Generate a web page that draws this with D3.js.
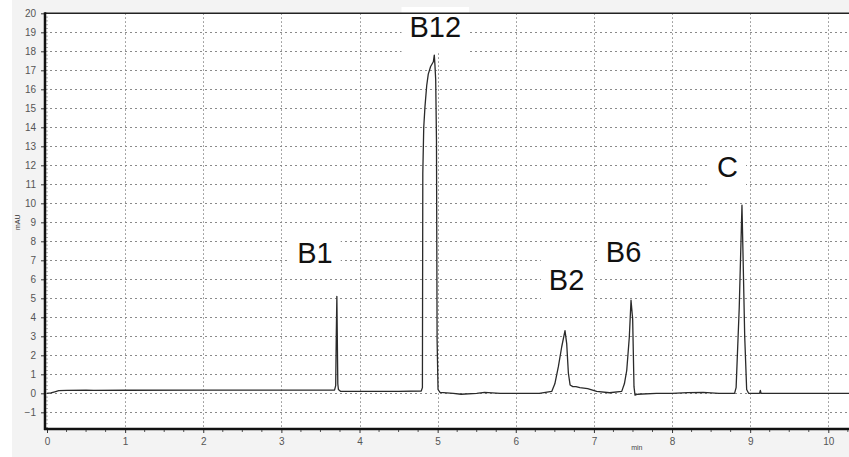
<!DOCTYPE html>
<html>
<head>
<meta charset="utf-8">
<script src="https://cdn.jsdelivr.net/npm/d3@7"></script>
<style>
html,body{margin:0;padding:0;background:#fff;}
svg{display:block;}
</style>
</head>
<body>
<svg id="chart" width="849" height="457"></svg>
<script>
// ---- data ----
const times = [0.00,0.05,0.10,0.15,0.25,0.50,0.60,1.00,2.00,3.00,3.50,3.68,3.695,3.703,3.71,3.716,3.722,3.73,3.76,4.00,4.50,4.79,4.805,4.81,4.822,4.838,4.86,4.88,4.91,4.945,4.957,4.965,4.975,4.985,4.993,5.005,5.03,5.2,5.3,5.5,5.6,5.8,6.0,6.3,6.46,6.50,6.545,6.588,6.63,6.652,6.673,6.695,6.73,6.77,6.82,6.92,7.035,7.2,7.356,7.39,7.42,7.453,7.475,7.496,7.513,7.526,7.56,7.8,8.0,8.2,8.4,8.6,8.80,8.82,8.86,8.895,8.91,8.93,8.955,8.98,9.12,9.13,9.14,9.5,10.3];
const signal = [0.00,0.02,0.08,0.14,0.15,0.17,0.15,0.16,0.17,0.17,0.17,0.17,0.4,3.2,5.1,2.8,0.5,0.2,0.1,0.1,0.1,0.12,0.3,11.6,14.0,15.1,16.2,16.8,17.2,17.45,17.8,17.3,16.5,13.3,2.8,0.2,0.05,0.0,-0.05,0.0,0.05,0.0,0.0,0.0,0.1,0.5,1.4,2.45,3.3,2.6,1.07,0.44,0.35,0.35,0.3,0.25,0.1,0.03,0.1,0.5,1.2,2.95,4.9,3.9,0.35,-0.1,-0.05,0.0,0.0,0.04,0.05,0.0,0.0,0.3,4.5,9.9,7.0,3.0,0.2,0.0,0.0,0.15,0.0,0.0,0.0];
const xTicks = [0,1,2,3,4,5,6,7,8,9,10];
const yTicks = [-1,0,1,2,3,4,5,6,7,8,9,10,11,12,13,14,15,16,17,18,19,20];
const peakLabels = ["B1","B12","B2","B6","C"];
const peakLabelTime = [3.43,4.97,6.65,7.38,8.71];
const peakLabelValue = [6.87,18.75,5.44,6.91,11.38];
const yTitle = "mAU";
const xTitle = "min";

// ---- layout ----
const W = 849, H = 457;
const svg = d3.select("#chart");
const x = d3.scaleLinear().domain([0,10]).range([47,828.3]);
const y = d3.scaleLinear().domain([0,20]).range([393.3,13.3]);
const plotLeft = 45, plotTop = y(20), plotBottom = 429, plotRight = W + 5;

svg.append("rect").attr("x",0).attr("y",0).attr("width",W).attr("height",H).attr("fill","#fff");
svg.append("rect").attr("x",12).attr("y",0).attr("width",W-12).attr("height",H).attr("fill","#f3f3f3");
svg.append("rect").attr("x",plotLeft).attr("y",plotTop).attr("width",plotRight-plotLeft).attr("height",plotBottom-plotTop).attr("fill","#fff");

// grid
const grid = svg.append("g").attr("stroke","#8a8a8a").attr("stroke-width",1).attr("stroke-dasharray","2,3");
grid.selectAll("line.h").data(yTicks.filter(d=>d<20)).enter().append("line")
  .attr("x1",plotLeft).attr("x2",plotRight)
  .attr("y1",d=>Math.round(y(d))+0.5).attr("y2",d=>Math.round(y(d))+0.5);
grid.selectAll("line.v").data(xTicks.filter(d=>d>0)).enter().append("line")
  .attr("y1",plotTop).attr("y2",plotBottom)
  .attr("x1",d=>Math.round(x(d))+0.5).attr("x2",d=>Math.round(x(d))+0.5)
  .attr("stroke-dasharray","1.5,2.5");

// y minor ticks (inside)
const yMinor = d3.range(-1.8, 20.0001, 0.2);
svg.append("g").selectAll("line").data(yMinor).enter().append("line")
  .attr("x1",plotLeft).attr("x2",plotLeft+3)
  .attr("y1",d=>y(d)).attr("y2",d=>y(d))
  .attr("stroke","#999").attr("stroke-width",0.8);

// labels with white boxes (under the trace)
const lab = svg.append("g");
peakLabels.forEach((t,i)=>{
  const g = lab.append("g");
  const txt = g.append("text").attr("x",x(peakLabelTime[i])).attr("y",y(peakLabelValue[i]))
    .attr("text-anchor","middle").attr("font-family","Liberation Sans, Arial, sans-serif")
    .attr("font-size",29).attr("fill","#111").text(t);
  const bb = txt.node().getBBox();
  g.insert("rect","text").attr("x",bb.x-8).attr("y",bb.y-4).attr("width",bb.width+16).attr("height",bb.height+14)
    .attr("fill","#fff");
});

// top border
svg.append("line").attr("x1",plotLeft).attr("x2",plotRight).attr("y1",plotTop).attr("y2",plotTop)
  .attr("stroke","#222").attr("stroke-width",1.5);

// trace
const pts = times.map((t,i)=>[t,signal[i]]);
const line = d3.line().x(d=>x(d[0])).y(d=>y(d[1]));
svg.append("path").datum(pts).attr("d",line).attr("fill","none")
  .attr("stroke","#2a2a2a").attr("stroke-width",1.3).attr("stroke-linejoin","round");

// axes
const axisFont = "Liberation Sans, Arial, sans-serif";
const yAxis = d3.axisLeft(d3.scaleLinear().domain(y.domain()).range(y.range())).tickValues(yTicks).tickSize(4).tickFormat(d3.format("d"));
const yg = svg.append("g").attr("transform",`translate(${plotLeft},0)`).call(yAxis);
yg.select(".domain").remove();
yg.selectAll(".tick line").attr("stroke","#333");
yg.selectAll(".tick text").attr("font-family",axisFont).attr("font-size",10).attr("fill","#555").attr("dx",-2);
svg.append("line").attr("x1",plotLeft).attr("x2",plotLeft).attr("y1",plotTop-1).attr("y2",plotBottom+1)
  .attr("stroke","#111").attr("stroke-width",2.5);

const xAxis = d3.axisBottom(x).tickValues(xTicks).tickSize(4).tickFormat(d3.format("d"));
const xg = svg.append("g").attr("transform",`translate(0,${plotBottom})`).call(xAxis);
xg.select(".domain").remove();
xg.selectAll(".tick line").attr("stroke","#333");
xg.selectAll(".tick text").attr("font-family",axisFont).attr("font-size",10).attr("fill","#555").attr("dy","0.9em");
const xMinor = d3.range(0.25, 10.3, 0.25).filter(d=>Math.abs(d-Math.round(d))>0.01);
svg.append("g").selectAll("line").data(xMinor).enter().append("line")
  .attr("x1",d=>x(d)).attr("x2",d=>x(d)).attr("y1",plotBottom).attr("y2",plotBottom+3)
  .attr("stroke","#555").attr("stroke-width",1);
svg.append("line").attr("x1",plotLeft-1).attr("x2",plotRight).attr("y1",plotBottom).attr("y2",plotBottom)
  .attr("stroke","#111").attr("stroke-width",2.5);

// titles
svg.append("text").attr("transform",`translate(20,${y(9)}) rotate(-90)`).attr("text-anchor","middle")
  .attr("font-family",axisFont).attr("font-size",7).attr("fill","#333").text(yTitle);
svg.append("text").attr("x",x(7.55)).attr("y",450).attr("text-anchor","middle")
  .attr("font-family",axisFont).attr("font-size",7).attr("fill","#444").text(xTitle);
</script>
</body>
</html>
